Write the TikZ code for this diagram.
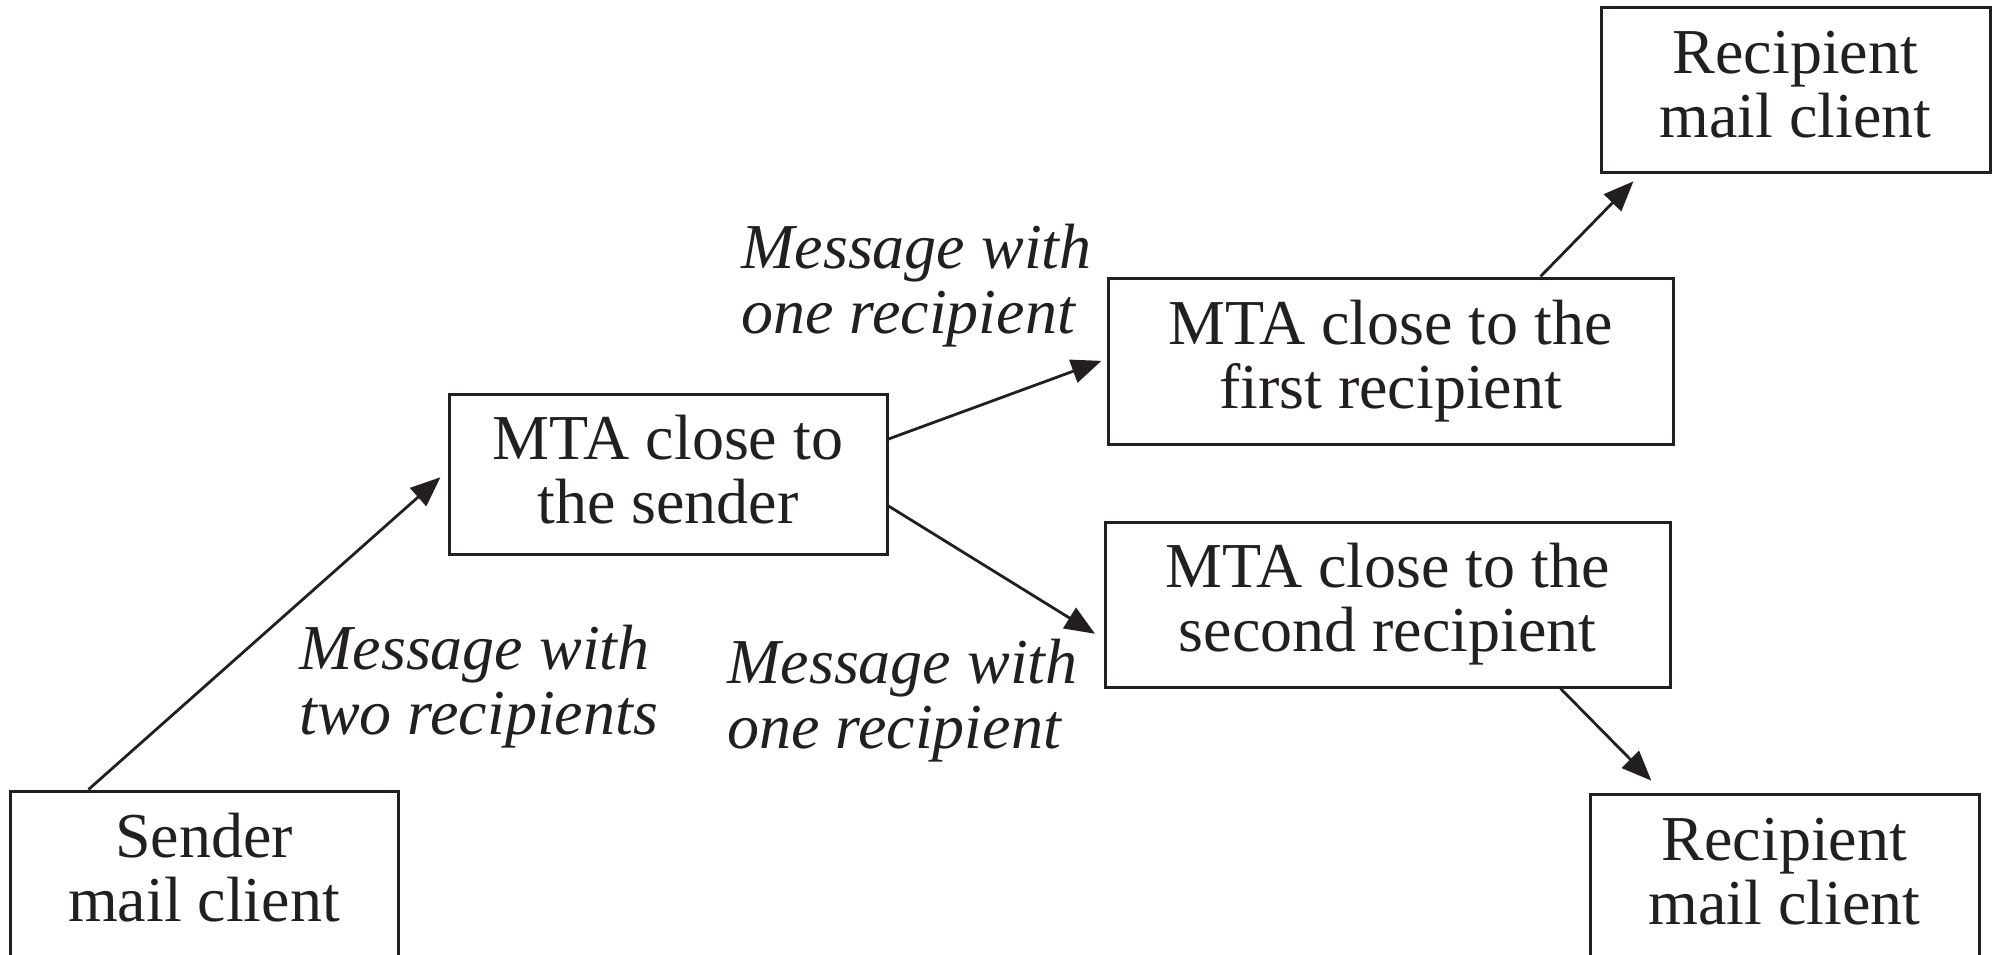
\documentclass[tikz,border=0pt]{standalone}
\usepackage{fontspec}
\setmainfont{Liberation Serif}
\usetikzlibrary{arrows.meta,calc}
\definecolor{ink}{HTML}{231F20}
\begin{document}
\begin{tikzpicture}[x=0.5pt,y=-0.5pt,
  box/.style={draw=ink, text=ink, line width=1.5pt, inner sep=0pt, align=center,
    font=\fontsize{32}{32}\selectfont},
  lbl/.style={text=ink, inner sep=0pt, align=left, anchor=north west,
    font=\fontsize{32}{32.5}\selectfont\itshape},
  arr/.style={draw=ink, line width=1.4pt, -{Triangle[length=15pt,width=12pt]}}]
\clip (0,0) rectangle (1993,954);
\useasboundingbox (0,0) rectangle (1993,954);

\node[box, minimum width=194pt, minimum height=87pt] (sender) at (204,878)
  {Sender\\mail client\rule[-11pt]{0pt}{11pt}};
\node[box, minimum width=219pt, minimum height=80pt] (mtas) at (668,474)
  {MTA close to\\the sender\rule[-4.5pt]{0pt}{4.5pt}};
\node[box, minimum width=282.5pt, minimum height=83pt] (mtaf) at (1390.5,361)
  {MTA close to the\\first recipient};
\node[box, minimum width=282.5pt, minimum height=82.5pt] (mtasec) at (1387.5,604.5)
  {MTA close to the\\second recipient};
\node[box, minimum width=194.5pt, minimum height=82.5pt] (rtop) at (1795.5,89.5)
  {Recipient\\mail client\rule[-5pt]{0pt}{5pt}};
\node[box, minimum width=194.5pt, minimum height=87pt] (rbot) at (1784.5,881)
  {Recipient\\mail client\rule[-9.5pt]{0pt}{9.5pt}};

\node[lbl] (l1) at (741,224) {Message with\\one recipient};
\node[lbl] (l2) at (299,625) {Message with\\two recipients};
\node[lbl] (l3) at (727,639) {Message with\\one recipient};

\draw[arr, shorten >=4.7pt] ($(sender.north west)+(80,0)$) -- ($(mtas.west)+(0,-3)$);
\draw[arr, shorten >=2.7pt] ($(mtas.east)+(0,-35)$) -- ($(mtaf.west)+(0,-2)$);
\draw[arr, shorten >=5pt] ($(mtas.east)+(0,32)$) -- ($(mtasec.west)+(0,34.5)$);
\draw[arr, shorten >=5.5pt] ($(mtaf.north west)+(434,0)$) -- ($(rtop.south west)+(41.6,0)$);
\draw[arr, shorten >=8.3pt] ($(mtasec.south west)+(457,0)$) -- ($(rbot.north west)+(74.5,0)$);
\end{tikzpicture}
\end{document}
